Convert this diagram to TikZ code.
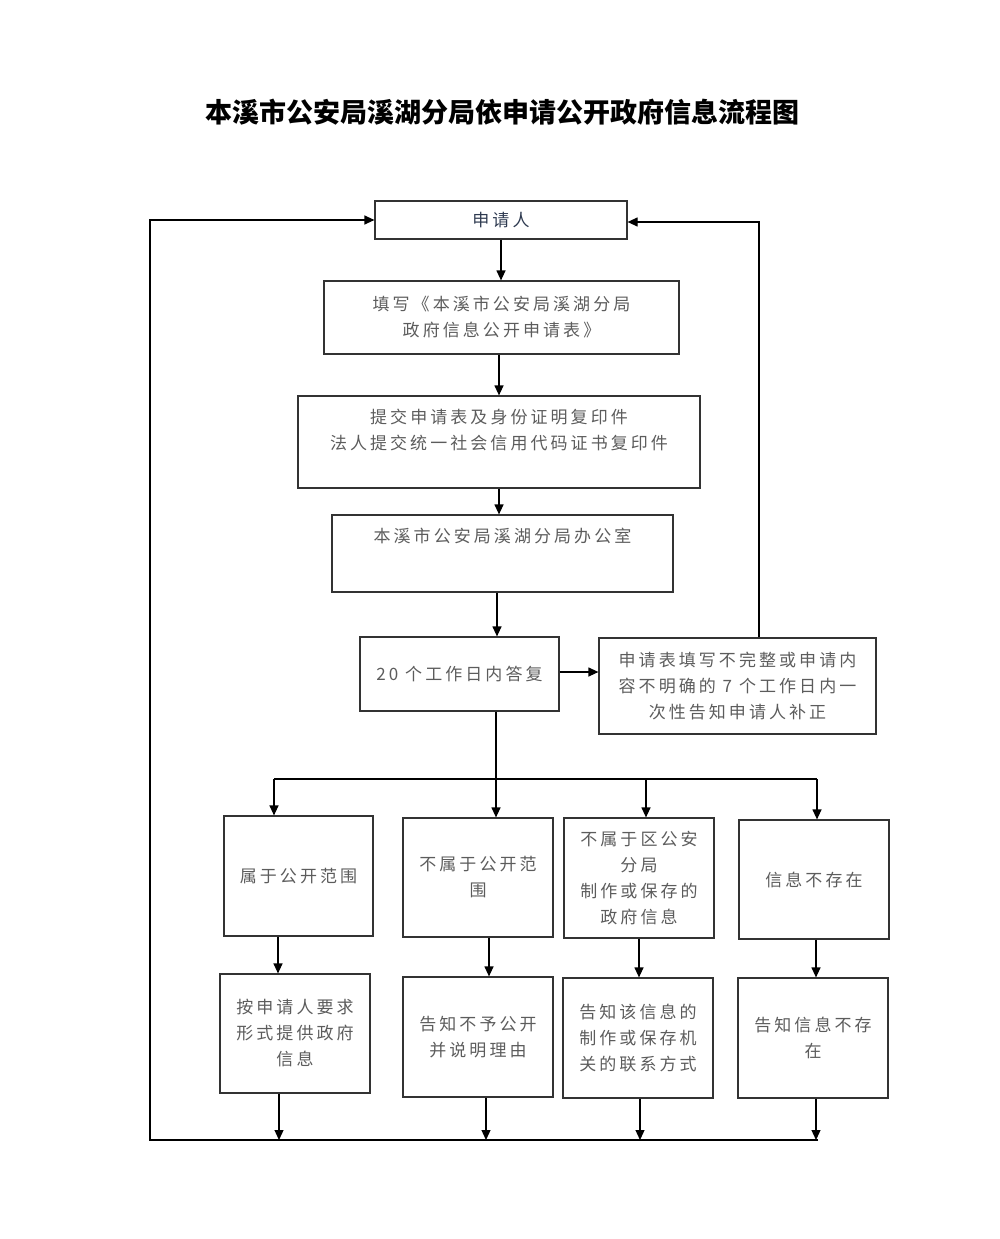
\documentclass[tikz,border=0pt]{standalone}
\usepackage{fontspec}
\usetikzlibrary{arrows.meta}
\newfontfamily\cjk[LetterSpace=18]{Noto Sans CJK SC}
\newfontfamily\cjkhead{Noto Sans CJK SC}
\definecolor{boxline}{HTML}{333333}
\definecolor{boxtext}{HTML}{5C5C5C}
\definecolor{headtext}{HTML}{2E3A50}
\begin{document}
\begin{tikzpicture}[x=1pt,y=-1pt,
  box/.style={draw=boxline,line width=1.2pt,rectangle,inner sep=0pt,align=center,text=boxtext,font=\cjk\fontsize{17}{26}\selectfont},
  arr/.style={draw=black,line width=1.2pt,-{Triangle[length=10pt,width=9pt]}},
  link/.style={draw=black,line width=1.2pt}]
\useasboundingbox (0,0) rectangle (1000,1239);
\node[font=\cjkhead\bfseries\fontsize{27}{30}\selectfont] (title) at (502,112) {本溪市公安局溪湖分局依申请公开政府信息流程图};
%APPLY
\node[box,text=headtext,minimum width=252,minimum height=38] (apply) at (501,220) {申请人};
\node[box,minimum width=355,minimum height=73] (fill) at (501.5,317.5) {填写《本溪市公安局溪湖分局\\政府信息公开申请表》};
\node[box,minimum width=402,minimum height=92] (submit) at (499,442) {提交申请表及身份证明复印件\\法人提交统一社会信用代码证书复印件\\ \mbox{}};
\node[box,minimum width=341,minimum height=77] (office) at (502.5,553.5) {本溪市公安局溪湖分局办公室\\[11pt] \mbox{}};
\node[box,minimum width=199,minimum height=74] (reply) at (459.5,674) {20 个工作日内答复};
\node[box,minimum width=277,minimum height=96] (amend) at (737.5,686) {申请表填写不完整或申请内\\容不明确的 7 个工作日内一\\次性告知申请人补正};
%ROW 1
\node[box,minimum width=149,minimum height=120] (open) at (298.5,876) {属于公开范围};
\node[box,minimum width=150,minimum height=119] (refuse) at (478,877.5) {不属于公开范\\围};
\node[box,minimum width=150,minimum height=120] (other) at (639,878) {不属于区公安\\分局\\制作或保存的\\政府信息};
\node[box,minimum width=150,minimum height=119] (none) at (814,879.5) {信息不存在};
%ROW 2
\node[box,minimum width=150,minimum height=119] (provide) at (295,1033.5) {按申请人要求\\形式提供政府\\信息};
\node[box,minimum width=150,minimum height=120] (tellrefuse) at (478,1037) {告知不予公开\\并说明理由};
\node[box,minimum width=150,minimum height=120] (tellother) at (638,1038) {告知该信息的\\制作或保存机\\关的联系方式};
\node[box,minimum width=150,minimum height=120] (tellnone) at (813,1038) {告知信息不存\\在};
\coordinate (splitL) at (274,779);
\coordinate (splitR) at (817,779);
\coordinate (bus) at (150,1140);
\coordinate (busend) at (818,1140);
%MAIN LINE
\draw[arr] (apply.south) -- (apply.south |- fill.north);
\draw[arr] (submit.north |- fill.south) -- (submit.north);
\draw[arr] (submit.south) -- (submit.south |- office.north);
\draw[arr] ([xshift=-5.5pt]office.south) -- ([xshift=-5.5pt]office.south |- reply.north);
\draw[arr] ([yshift=2pt]reply.east) -- ([yshift=2pt]reply.east -| amend.west);
\draw[arr] ([xshift=21.5pt]amend.north) |- ([yshift=-2pt]apply.east);
%SPLIT
\draw[arr] ([xshift=36.5pt]reply.south) -- ([xshift=36.5pt]reply.south |- refuse.north);
\draw[link] (splitL) -- (splitR);
\draw[arr] (splitL) -- (splitL |- open.north);
\draw[arr] ([xshift=7pt]other.north |- splitL) -- ([xshift=7pt]other.north);
\draw[arr] (splitR) -- (splitR |- none.north);
%ROW 1 TO ROW 2
\draw[arr] ([xshift=-20.5pt]open.south) -- ([xshift=-20.5pt]open.south |- provide.north);
\draw[arr] ([xshift=11pt]refuse.south) -- ([xshift=11pt]refuse.south |- tellrefuse.north);
\draw[arr] (other.south) -- (other.south |- tellother.north);
\draw[arr] ([xshift=2pt]none.south) -- ([xshift=2pt]none.south |- tellnone.north);
%BACK TO APPLY
\draw[arr] ([xshift=-16pt]provide.south) -- ([xshift=-16pt]provide.south |- bus);
\draw[arr] ([xshift=8pt]tellrefuse.south) -- ([xshift=8pt]tellrefuse.south |- bus);
\draw[arr] ([xshift=2pt]tellother.south) -- ([xshift=2pt]tellother.south |- bus);
\draw[arr] ([xshift=3pt]tellnone.south) -- ([xshift=3pt]tellnone.south |- bus);
\draw[arr] (busend) -- (bus) |- (apply.west);
\end{tikzpicture}
\end{document}
